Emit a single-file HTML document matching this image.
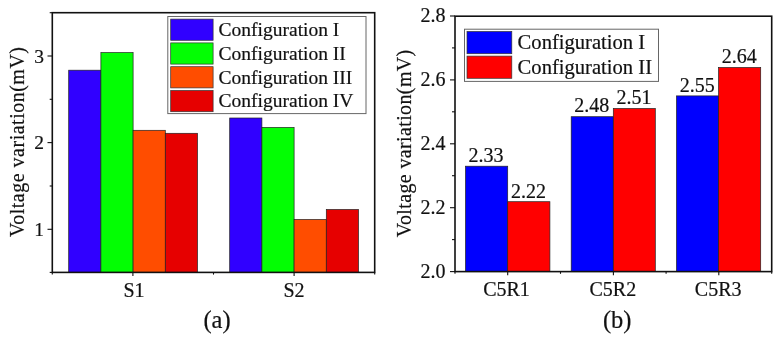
<!DOCTYPE html>
<html><head><meta charset="utf-8">
<style>
html,body{margin:0;padding:0;background:#fff;}
svg{display:block;filter:blur(0.4px);}
text{font-family:"Liberation Serif",serif;fill:#111;stroke:#111;stroke-width:0.2px;}
</style></head>
<body>
<svg width="778" height="342" viewBox="0 0 778 342">
<rect width="778" height="342" fill="#fff"/>
<!-- LEFT CHART -->
<g stroke="#222" stroke-width="0.7">
<rect x="68.7" y="70.2" width="32.2" height="202.2" fill="#3000ff"/>
<rect x="100.9" y="52.6" width="32.2" height="219.8" fill="#03fe03"/>
<rect x="133.1" y="130.3" width="32.2" height="142.1" fill="#ff4d00"/>
<rect x="165.3" y="133.3" width="32.2" height="139.1" fill="#e60000"/>
<rect x="229.7" y="118" width="32.2" height="154.4" fill="#3000ff"/>
<rect x="261.9" y="127.4" width="32.2" height="145" fill="#03fe03"/>
<rect x="294.1" y="219.5" width="32.2" height="52.9" fill="#ff4d00"/>
<rect x="326.3" y="209.5" width="32.2" height="62.9" fill="#e60000"/>
</g>
<rect x="52.3" y="12.7" width="322.4" height="259.7" fill="none" stroke="#111" stroke-width="1.6"/>
<g stroke="#111" stroke-width="1.1">
<line x1="47.5" y1="56" x2="52.3" y2="56"/>
<line x1="47.5" y1="142.6" x2="52.3" y2="142.6"/>
<line x1="47.5" y1="229.3" x2="52.3" y2="229.3"/>
<line x1="49.7" y1="12.7" x2="52.3" y2="12.7"/>
<line x1="49.7" y1="99.3" x2="52.3" y2="99.3"/>
<line x1="49.7" y1="186" x2="52.3" y2="186"/>
<line x1="49.7" y1="272.4" x2="52.3" y2="272.4"/>
<line x1="132.9" y1="272.4" x2="132.9" y2="276"/>
<line x1="294.1" y1="272.4" x2="294.1" y2="276"/>
<line x1="213.5" y1="272.4" x2="213.5" y2="274.6"/>
<line x1="52.3" y1="272.4" x2="52.3" y2="274.6"/>
<line x1="374.7" y1="272.4" x2="374.7" y2="274.6"/>
</g>
<!-- legend left -->
<rect x="167.8" y="16.5" width="198.2" height="97.1" fill="#fff" stroke="#666" stroke-width="1"/>
<g stroke="#333" stroke-width="0.7">
<rect x="170.7" y="19.1" width="42.4" height="21.2" fill="#3000ff"/>
<rect x="170.7" y="42.9" width="42.4" height="21.2" fill="#03fe03"/>
<rect x="170.7" y="66.7" width="42.4" height="21.2" fill="#ff4d00"/>
<rect x="170.7" y="90.5" width="42.4" height="21.2" fill="#e60000"/>
</g>
<g font-size="19.5">
<text x="218.6" y="36">Configuration I</text>
<text x="218.6" y="59.8">Configuration II</text>
<text x="218.6" y="83.6">Configuration III</text>
<text x="218.6" y="107.4">Configuration IV</text>
</g>
<g font-size="19.5" text-anchor="end">
<text x="44" y="62.5">3</text>
<text x="44" y="149.1">2</text>
<text x="44" y="235.8">1</text>
</g>
<g font-size="20" text-anchor="middle">
<text x="134" y="297.3">S1</text>
<text x="294" y="297.3">S2</text>
</g>
<text font-size="24.5" text-anchor="middle" x="217" y="327.6">(a)</text>
<text font-size="20" letter-spacing="0.5" text-anchor="middle" transform="translate(24,141.8) rotate(-90)">Voltage variation(mV)</text>

<!-- RIGHT CHART -->
<g stroke="#222" stroke-width="0.7">
<rect x="465.5" y="166.2" width="42.2" height="105.4" fill="#0000ff"/>
<rect x="507.7" y="201.7" width="42.2" height="69.9" fill="#ff0000"/>
<rect x="571.2" y="116.7" width="42.1" height="154.9" fill="#0000ff"/>
<rect x="613.3" y="108.5" width="42" height="163.1" fill="#ff0000"/>
<rect x="676.5" y="95.9" width="42.1" height="175.7" fill="#0000ff"/>
<rect x="718.6" y="67.5" width="42.1" height="204.1" fill="#ff0000"/>
</g>
<rect x="455" y="16.2" width="316.7" height="255.4" fill="none" stroke="#111" stroke-width="1.6"/>
<g stroke="#111" stroke-width="1.1">
<line x1="450" y1="16" x2="455" y2="16"/>
<line x1="450" y1="79.9" x2="455" y2="79.9"/>
<line x1="450" y1="143.8" x2="455" y2="143.8"/>
<line x1="450" y1="207.7" x2="455" y2="207.7"/>
<line x1="450" y1="271.6" x2="455" y2="271.6"/>
<line x1="452" y1="47.9" x2="455" y2="47.9"/>
<line x1="452" y1="111.8" x2="455" y2="111.8"/>
<line x1="452" y1="175.7" x2="455" y2="175.7"/>
<line x1="452" y1="239.6" x2="455" y2="239.6"/>
<line x1="507.7" y1="271.6" x2="507.7" y2="275.2"/>
<line x1="613.4" y1="271.6" x2="613.4" y2="275.2"/>
<line x1="718.8" y1="271.6" x2="718.8" y2="275.2"/>
<line x1="560.5" y1="271.6" x2="560.5" y2="273.8"/>
<line x1="666.1" y1="271.6" x2="666.1" y2="273.8"/>
<line x1="455" y1="271.6" x2="455" y2="273.8"/>
<line x1="771.7" y1="271.6" x2="771.7" y2="273.8"/>
</g>
<rect x="464.5" y="29.2" width="194" height="52.2" fill="#fff" stroke="#666" stroke-width="1"/>
<g stroke="#333" stroke-width="0.7">
<rect x="467" y="31.5" width="44.8" height="22.2" fill="#0000ff"/>
<rect x="467" y="56.1" width="44.8" height="22.2" fill="#ff0000"/>
</g>
<g font-size="20.6">
<text x="517.6" y="49.4">Configuration I</text>
<text x="517.6" y="74">Configuration II</text>
</g>
<g font-size="20" text-anchor="end">
<text x="445.4" y="22.4">2.8</text>
<text x="445.4" y="86.3">2.6</text>
<text x="445.4" y="150.2">2.4</text>
<text x="445.4" y="214.1">2.2</text>
<text x="445.4" y="278">2.0</text>
</g>
<g font-size="20" text-anchor="middle">
<text x="506.5" y="296.3">C5R1</text>
<text x="612.8" y="296.3">C5R2</text>
<text x="718.2" y="296.3">C5R3</text>
</g>
<g font-size="20" text-anchor="middle">
<text x="486" y="162">2.33</text>
<text x="528.4" y="197.5">2.22</text>
<text x="591.8" y="112.4">2.48</text>
<text x="634" y="103.6">2.51</text>
<text x="697.2" y="91.7">2.55</text>
<text x="739.2" y="63.2">2.64</text>
</g>
<text font-size="24.5" text-anchor="middle" x="617.2" y="328.3">(b)</text>
<text font-size="20" letter-spacing="0.37" text-anchor="middle" transform="translate(411,143.3) rotate(-90)">Voltage variation(mV)</text>
</svg>
</body></html>
